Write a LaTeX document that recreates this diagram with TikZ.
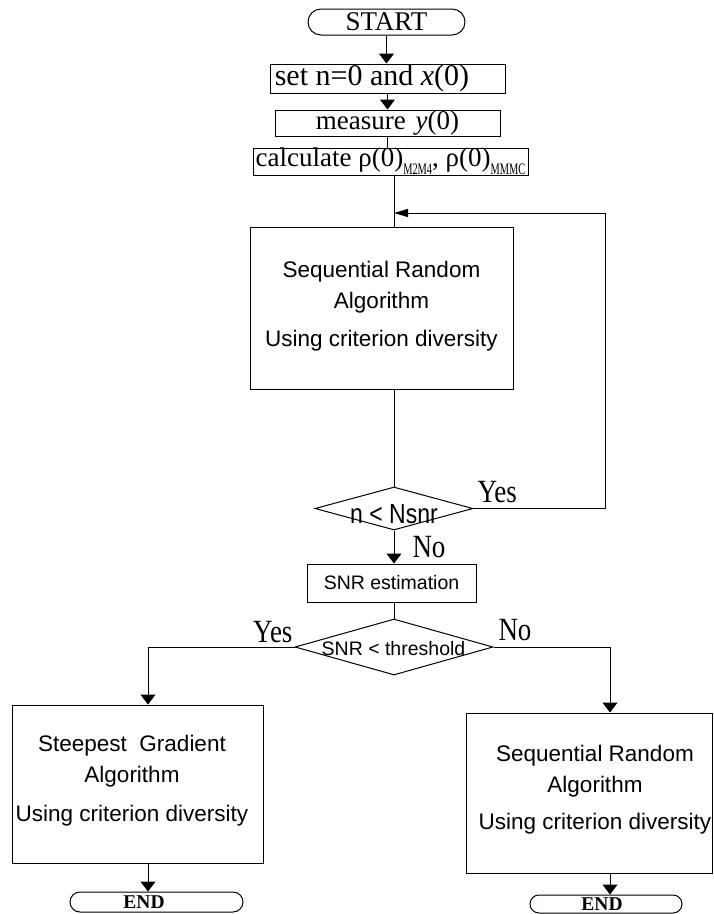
\documentclass[tikz,border=0pt]{standalone}
\usepackage{fontspec}
\usepackage{graphicx}
\setmainfont{Liberation Serif}
\setsansfont{Liberation Sans}
\usetikzlibrary{shapes.geometric,arrows.meta}
\newcommand\vst[1]{\scalebox{1}[1.2]{#1}}
\newcommand\lowsub[1]{\raisebox{-8pt}{\fontsize{16}{16}\selectfont\scalebox{0.65}[1]{#1}}}
\begin{document}
\begin{tikzpicture}[x=1pt,y=-1pt,line width=1pt,
  procbox/.style={draw,inner sep=0pt,align=center},
  termbox/.style={draw,inner sep=0pt},
  endtext/.style={inner sep=0pt,font=\fontsize{19.5}{20}\selectfont\bfseries},
  bigtext/.style={inner sep=0pt,align=center,font=\fontsize{22.5}{31}\selectfont\sffamily},
  decision/.style={draw,shape=diamond,inner sep=0pt},
  lbl/.style={inner sep=0pt,font=\fontsize{27}{27}\selectfont},
  arr/.style={-{Triangle[length=10pt,width=15pt]}},
  backarr/.style={-{Triangle[length=14pt,width=8pt]}}
]
\useasboundingbox (0,0) rectangle (714,914);

% top column
\node[draw,inner sep=0pt,rounded corners=13pt,minimum width=157pt,minimum height=26pt,
      font=\fontsize{27}{27}\selectfont] (start) at (386.5,22) {START};
\node[procbox,minimum width=235pt,minimum height=29pt] (b1) at (387.5,78.5) {};
\node[inner sep=0pt,font=\fontsize{30}{30}\selectfont] (b1t) at (372,78) {set n=0 and \textit{x}(0)};
\node[procbox,minimum width=225pt,minimum height=26pt,font=\fontsize{27}{27}\selectfont]
      (meas) at (387.5,123) {measure\hspace{10pt}\textit{y}(0)};
\node[procbox,minimum width=275pt,minimum height=27pt,font=\fontsize{27}{27}\selectfont]
      (calc) at (390.5,161.5) {calculate ρ(0)\lowsub{M2M4}, ρ(0)\lowsub{MMMC}};

\node[procbox,minimum width=263pt,minimum height=162pt] (sra) at (381.5,308) {};
\node[bigtext] (srat) at (381.5,306)
      {Sequential Random\\Algorithm\\[7pt]Using criterion diversity};

\node[decision,minimum width=158pt,minimum height=43pt] (d1) at (394,508.5) {};
\node[anchor=base,inner sep=0pt,font=\fontsize{23}{23}\selectfont\sffamily] (d1t) at (394,523) {\vst{n < Nsnr}};

\node[procbox,minimum width=169pt,minimum height=38pt,font=\fontsize{19.5}{20}\selectfont\sffamily]
      (snr) at (391.5,583) {SNR estimation};

\node[decision,minimum width=198pt,minimum height=56pt] (d2) at (394,647) {};
\node[anchor=base,inner sep=0pt,font=\fontsize{19.5}{20}\selectfont\sffamily] (d2t) at (393.5,655) {SNR < threshold};

\node[procbox,minimum width=251pt,minimum height=158pt] (sga) at (137.5,784) {};
\node[bigtext] (sgat) at (132,781)
      {Steepest~ Gradient\\Algorithm\\[8pt]Using criterion diversity};
\node[procbox,minimum width=246pt,minimum height=160pt] (sra2) at (589,793) {};
\node[bigtext] (sra2t) at (595,790)
      {Sequential Random\\Algorithm\\[6pt]Using criterion diversity};

\node[termbox,rounded corners=10pt,minimum width=173pt,minimum height=20pt] (end1) at (156.5,902) {};
\node[endtext] (end1t) at (144,902) {END};
\node[termbox,rounded corners=9pt,minimum width=152pt,minimum height=18pt] (end2) at (606,904) {};
\node[endtext] (end2t) at (602,904) {END};

% labels
\node[lbl,anchor=base west] (yes1) at (477,502) {\vst{Yes}};
\node[lbl,anchor=base west] (no1) at (412,557) {\vst{No}};
\node[lbl,anchor=base east] (yes2) at (293,642) {\vst{Yes}};
\node[lbl,anchor=base west] (no2) at (498,640) {\vst{No}};

% helper coordinates
\coordinate (loop) at (605,213);
\coordinate (lx) at (148,0);
\coordinate (rx) at (610,0);

% connectors
\draw[arr] (start.south) -- (start.south |- b1.north);
\draw[arr] (b1.south) -- (b1.south |- meas.north);
\draw (meas.south) -- (meas.south |- calc.north);
\draw (d1.north |- calc.south) -- (d1.north |- sra.north);
\draw (d1.north |- sra.south) -- (d1.north);
\draw[backarr] (d1.east) -| (loop) -- (loop -| d1.north);
\draw[arr] (d1.south) -- (d1.south |- snr.north);
\draw (d2.north |- snr.south) -- (d2.north);
\draw[arr] (d2.west) -| (lx |- sga.north);
\draw[arr] (d2.east) -| (rx |- sra2.north);
\draw[arr] (lx |- sga.south) -- (lx |- end1.north);
\draw[arr] (rx |- sra2.south) -- (rx |- end2.north);
\end{tikzpicture}
\end{document}
